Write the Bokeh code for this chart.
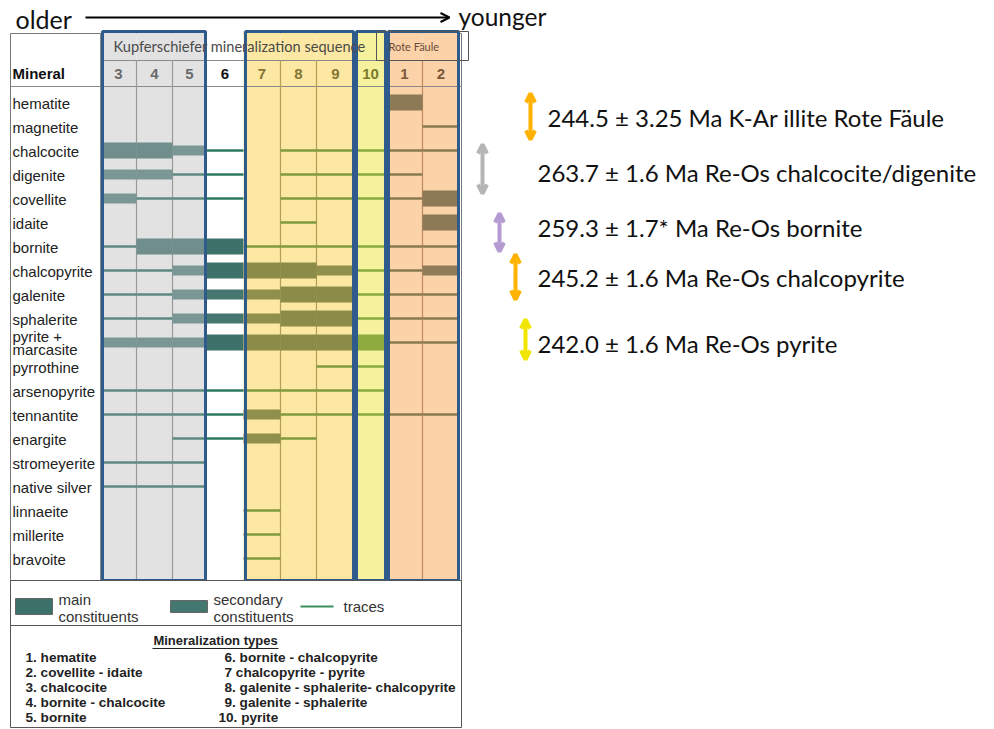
from bokeh.plotting import figure
from bokeh.models import Range1d, Arrow, OpenHead
from bokeh.core.properties import value
from bokeh.embed import file_html
from bokeh.resources import INLINE

# ---------------- data ----------------
minerals = ["hematite", "magnetite", "chalcocite", "digenite", "covellite", "idaite",
            "bornite", "chalcopyrite", "galenite", "sphalerite", "pyrite +\nmarcasite",
            "pyrrothine", "arsenopyrite", "tennantite", "enargite", "stromeyerite",
            "native silver", "linnaeite", "millerite", "bravoite"]
columns = ["3", "4", "5", "6", "7", "8", "9", "10", "1", "2"]
column_group = ["K", "K", "K", "W", "Y", "Y", "Y", "L", "R", "R"]
# 0 = absent, 1 = traces, 2 = secondary constituents, 3 = main constituents
abundance = [
    [0, 0, 0, 0, 0, 0, 0, 0, 3, 0],  # hematite
    [0, 0, 0, 0, 0, 0, 0, 0, 0, 1],  # magnetite
    [3, 3, 2, 1, 0, 1, 1, 1, 1, 1],  # chalcocite
    [2, 2, 1, 1, 0, 1, 1, 1, 1, 0],  # digenite
    [2, 1, 1, 1, 0, 1, 1, 1, 1, 3],  # covellite
    [0, 0, 0, 0, 0, 1, 0, 0, 0, 3],  # idaite
    [1, 3, 3, 3, 1, 1, 1, 1, 1, 1],  # bornite
    [1, 1, 2, 3, 3, 3, 2, 1, 1, 2],  # chalcopyrite
    [1, 1, 2, 2, 2, 3, 3, 1, 1, 1],  # galenite
    [1, 1, 2, 2, 2, 3, 3, 1, 1, 1],  # sphalerite
    [2, 2, 2, 3, 3, 3, 3, 3, 1, 1],  # pyrite + marcasite
    [0, 0, 0, 0, 0, 0, 1, 1, 0, 0],  # pyrrothine
    [1, 1, 1, 1, 1, 1, 1, 1, 0, 0],  # arsenopyrite
    [1, 1, 1, 1, 2, 1, 1, 1, 1, 1],  # tennantite
    [0, 0, 1, 1, 2, 1, 0, 0, 0, 0],  # enargite
    [1, 1, 1, 0, 0, 0, 0, 0, 0, 0],  # stromeyerite
    [1, 1, 1, 0, 0, 0, 0, 0, 0, 0],  # native silver
    [0, 0, 0, 0, 1, 0, 0, 0, 0, 0],  # linnaeite
    [0, 0, 0, 0, 1, 0, 0, 0, 0, 0],  # millerite
    [0, 0, 0, 0, 1, 0, 0, 0, 0, 0],  # bravoite
]
mineralization_types = ["1. hematite", "2. covellite - idaite", "3. chalcocite",
                        "4. bornite - chalcocite", "5. bornite",
                        "6. bornite - chalcopyrite", "7  chalcopyrite - pyrite",
                        "8. galenite - sphalerite- chalcopyrite",
                        "9. galenite - sphalerite", "10. pyrite"]
legend_labels = ["main\nconstituents", "secondary\nconstituents", "traces"]
ages = [244.5, 263.7, 259.3, 245.2, 242.0]
age_errors = ["3.25", "1.6", "1.7*", "1.6", "1.6"]
age_methods = ["K-Ar illite", "Re-Os", "Re-Os", "Re-Os", "Re-Os"]
age_targets = ["Rote Fäule", "chalcocite/digenite", "bornite", "chalcopyrite", "pyrite"]

# ---------------- layout / styles ----------------
col_edges = [100, 136, 172, 206, 243, 280, 316, 354, 386, 422, 459]
row_y0, row_dy = 102, 24
TOP, HDR1, HDR2, BOT = 31, 60, 86, 580
styles = {
    "K": dict(bg="#e2e2e2", main="#6f8e8c", sec="#7b9795", tr="#5e8a80", num="#6a6a6a", sep="#9a9a9a"),
    "W": dict(bg="#ffffff", main="#3d726b", sec="#44776f", tr="#2f7a64", num="#111111", sep="#9a9a9a"),
    "Y": dict(bg="#fce8a2", main="#8c8b48", sec="#908f4c", tr="#7f9a3c", num="#857536", sep="#b3a055"),
    "L": dict(bg="#f5f19c", main="#8dab3e", sec="#8dab3e", tr="#86a83c", num="#7b7a2c", sep="#b3a055"),
    "R": dict(bg="#fcd2a9", main="#8b7a55", sec="#8e7d58", tr="#8a7a50", num="#7a5a3a", sep="#c08a60"),
}
BLUE = "#2f5b8c"
arrow_cols = ["#ffb300", "#b5b5b5", "#b49bd2", "#ffb300", "#f2e600"]
arrow_x = [530, 482, 499, 515, 525]
arrow_y = [(93, 139), (144, 193), (213, 251), (254, 299), (319, 359)]
label_x = [547, 537, 537, 537, 537]
label_y = [117, 172, 227, 277, 343]

p = figure(width=994, height=729, x_range=Range1d(0, 994), y_range=Range1d(729, 0),
           output_backend="svg", toolbar_location=None, x_axis_location=None,
           y_axis_location=None, min_border=0, outline_line_color=None)
p.grid.visible = False
p.background_fill_color = "white"


def txt(xs, ys, texts, size, color="#222222", font="Liberation Sans", style="normal",
        align="left", baseline="middle"):
    p.text(x=xs, y=ys, text=texts, text_font=value(font), text_font_size=value(size),
           text_color=color, text_font_style=style, text_align=align,
           text_baseline=baseline)


# table frame
p.quad(left=10, right=461, top=33, bottom=BOT, fill_color="white", line_color="#777777", line_width=1)

# column backgrounds
for j, g in enumerate(column_group):
    p.quad(left=col_edges[j], right=col_edges[j + 1], top=TOP, bottom=BOT,
           fill_color=styles[g]["bg"], line_color=None)

# separators
p.segment(x0=[100, 10], y0=[HDR1, HDR2], x1=[461, 461], y1=[HDR1, HDR2], line_color="#8a8a8a", line_width=1)
p.segment(x0=[100], y0=[33], x1=[100], y1=[BOT], line_color="#8a8a8a", line_width=1)
for j in range(1, len(columns)):
    if column_group[j] == column_group[j - 1]:
        p.segment(x0=[col_edges[j]], y0=[HDR1], x1=[col_edges[j]], y1=[BOT],
                  line_color=styles[column_group[j]]["sep"], line_width=1.2)

# bars and traces
heights = {2: 5, 3: 8}
for i, row in enumerate(abundance):
    y = row_y0 + row_dy * i
    for j, a in enumerate(row):
        if a == 0:
            continue
        st = styles[column_group[j]]
        x0, x1 = col_edges[j], col_edges[j + 1]
        if a == 1:
            p.segment(x0=[x0], y0=[y], x1=[x1], y1=[y], line_color=st["tr"], line_width=2.5)
        else:
            p.quad(left=x0, right=x1, top=y - heights[a], bottom=y + heights[a],
                   fill_color=st["main"] if a == 3 else st["sec"], line_color=None)

# blue group boxes
blue_boxes = []
for g in ["K", "Y", "L", "R"]:
    idx = [j for j, c in enumerate(column_group) if c == g]
    blue_boxes.append((col_edges[idx[0]], col_edges[idx[-1] + 1]))
for (l, r) in blue_boxes:
    p.quad(left=l + 2, right=r - 1, top=TOP, bottom=BOT, fill_color=None,
           line_color=BLUE, line_width=3)

# Rote Faule header box
p.quad(left=376, right=468, top=TOP, bottom=HDR1, fill_color=None, line_color="#555555", line_width=1)
txt([113], [46], ["Kupferschiefer mineralization sequence"], "14.6px", "#4a4a4a", "Lato")
txt([388], [46], ["Rote Fäule"], "11px", "#6a4a3a", "Lato")

# header row 2
txt([12], [73], ["Mineral"], "15px", "#111111", style="bold")
txt([(col_edges[j] + col_edges[j + 1]) / 2 for j in range(len(columns))], [73] * len(columns),
    columns, "15px", [styles[g]["num"] for g in column_group], style="bold", align="center")

# mineral labels
for i, m in enumerate(minerals):
    y = row_y0 + row_dy * i
    parts = m.split("\n")
    if len(parts) == 1:
        txt([12], [y + 1], [m], "15px", "#222222")
    else:
        txt([12, 12], [y - 6, y + 7], parts, "15px", "#222222")

# legend box
p.quad(left=10, right=461, top=BOT, bottom=625, fill_color="white", line_color="#555555", line_width=1)
p.quad(left=15, right=52, top=598, bottom=614, fill_color=styles["W"]["main"], line_color="#666666")
p.quad(left=170, right=207, top=600, bottom=612, fill_color=styles["W"]["sec"], line_color="#666666")
p.segment(x0=[300], y0=[606], x1=[333], y1=[606], line_color="#3a9060", line_width=2)
lx = [58, 213, 343]
for k, lab in enumerate(legend_labels):
    parts = lab.split("\n")
    if len(parts) == 2:
        txt([lx[k], lx[k]], [599, 616], parts, "15px", "#333333")
    else:
        txt([lx[k]], [606], parts, "15px", "#333333")

# mineralization types box
p.quad(left=10, right=461, top=625, bottom=727, fill_color="white", line_color="#555555", line_width=1)
txt([215], [640], ["Mineralization types"], "13px", "#222222", style="bold", align="center")
p.segment(x0=[152], y0=[648], x1=[278], y1=[648], line_color="#222222", line_width=1)
for k, t in enumerate(mineralization_types):
    colx = 25 if k < 5 else 224 - 6 * (len(t.split(".")[0].split(" ")[0]) - 1)
    txt([colx], [657 + 15 * (k % 5)], [t], "13.6px", "#222222", style="bold")

# older -> younger arrow
txt([15], [18], ["older"], "25px", "#111111", "Lato")
txt([458], [16], ["younger"], "24.5px", "#111111", "Lato")
p.add_layout(Arrow(x_start=85, y_start=17, x_end=449, y_end=17, line_color="black", line_width=2,
                   end=OpenHead(size=9, line_color="black", line_width=2)))

# dating annotations
for k in range(len(ages)):
    c = arrow_cols[k]
    y0, y1 = arrow_y[k]
    p.add_layout(Arrow(x_start=arrow_x[k], y_start=y0, x_end=arrow_x[k], y_end=y1,
                       line_color=c, line_width=4,
                       start=OpenHead(size=9, line_color=c, line_width=4),
                       end=OpenHead(size=9, line_color=c, line_width=4)))
    label = f"{ages[k]:.1f} ± {age_errors[k]} Ma {age_methods[k]} {age_targets[k]}"
    txt([label_x[k]], [label_y[k]], [label], "24px", "#111111", "Lato")

open("out.html", "w").write(file_html(p, INLINE))
